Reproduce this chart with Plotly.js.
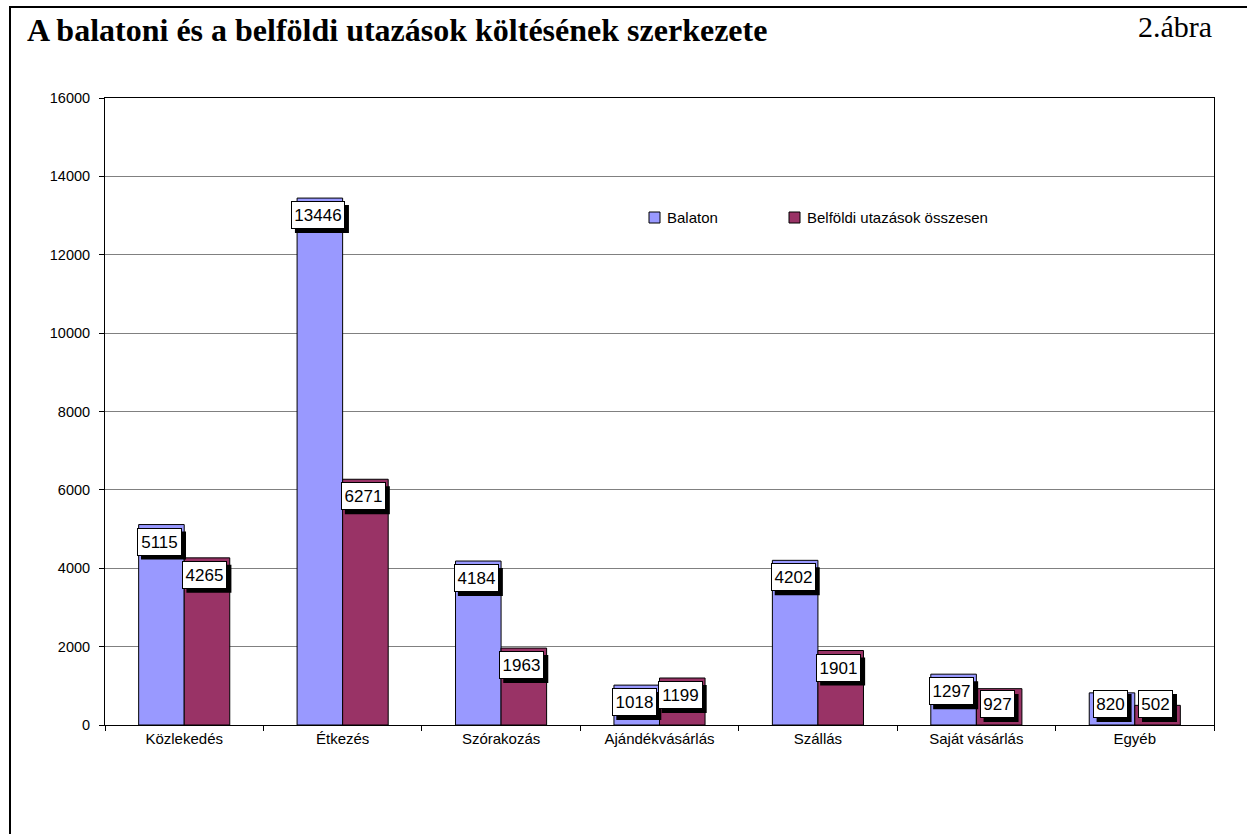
<!DOCTYPE html>
<html>
<head>
<meta charset="utf-8">
<script src="https://cdn.plot.ly/plotly-3.0.1.min.js"></script>
<style>html,body{margin:0;padding:0;background:#fff;}#chart{width:1247px;height:834px;}</style>
</head>
<body>
<div id="chart"></div>
<script>
const categories = ['Közlekedés','Étkezés','Szórakozás','Ajándékvásárlás','Szállás','Saját vásárlás','Egyéb'];
const balaton = [5115,13446,4184,1018,4202,1297,820];
const belfoldi = [4265,6271,1963,1199,1901,927,502];
const seriesNames = ['Balaton','Belföldi utazások összesen'];
const seriesColors = ['#9999FF','#993366'];
const yTicks = [0,2000,4000,6000,8000,10000,12000,14000,16000];

const W = 1247, H = 834;
const L = 105, R = 1214, T = 98, B = 725;
const pw = R - L, ph = B - T;
const px2x = p => (p - L) / pw;
const py2y = p => (B - p) / ph;

const traces = [balaton, belfoldi].map((vals, i) => ({
  type: 'bar', x: categories, y: vals, name: seriesNames[i],
  marker: {color: seriesColors[i], line: {color: '#000', width: 1}},
  showlegend: false, hoverinfo: 'skip'
}));

const lblFont = {family: 'Arial, "Liberation Sans", sans-serif', size: 17, color: '#000'};
const annotations = [];
const shapes = [];
const unitPx = ph / 16000;
const PAD = 2, BW = 1, TH = 22, SH = 4;
[balaton, belfoldi].forEach((vals, si) => {
  const xs = (si === 0 ? -22.7 : 22.7) - 2;
  vals.forEach((v, ci) => {
    const txt = String(v);
    const tw = Math.round(txt.length * 9.45) + 1;
    const ow = tw + 2 * (PAD + BW), oh = TH + 2 * (PAD + BW);
    const small = v * unitPx < 37;
    let yAnchorVal, ys, topPx;
    if (small) { yAnchorVal = 0; ys = 7; topPx = ys + oh; }
    else { yAnchorVal = v; ys = -3; topPx = ys; }
    shapes.push({type: 'rect', xref: 'x', yref: 'y',
      xsizemode: 'pixel', ysizemode: 'pixel',
      xanchor: categories[ci], yanchor: yAnchorVal,
      x0: xs + SH - ow / 2, x1: xs + SH + ow / 2,
      y0: topPx - SH - oh, y1: topPx - SH,
      fillcolor: '#000', line: {color: '#000', width: 0}, layer: 'above'});
    annotations.push({
      xref: 'x', yref: 'y', x: categories[ci], y: yAnchorVal,
      yanchor: small ? 'bottom' : 'top', yshift: ys, xanchor: 'center', xshift: xs,
      text: txt, showarrow: false, width: tw, height: TH,
      font: lblFont, bgcolor: '#fff', bordercolor: '#000', borderwidth: BW, borderpad: PAD
    });
  });
});

// legend (custom)
const legFont = {family: 'Arial, "Liberation Sans", sans-serif', size: 15, color: '#000'};
const legItems = [{sx: 649, tx: 665}, {sx: 789, tx: 805}];
legItems.forEach((it, i) => {
  shapes.push({type: 'rect', xref: 'paper', yref: 'paper',
    x0: px2x(it.sx), x1: px2x(it.sx + 11), y0: py2y(223), y1: py2y(212),
    fillcolor: seriesColors[i], line: {color: '#000', width: 1}});
  annotations.push({xref: 'paper', yref: 'paper', x: px2x(it.tx), y: py2y(217.5),
    xanchor: 'left', yanchor: 'middle', text: seriesNames[i], showarrow: false, font: legFont});
});

// outer frame
shapes.push({type: 'rect', xref: 'paper', yref: 'paper',
  x0: px2x(10), x1: px2x(1300), y0: py2y(900), y1: py2y(7),
  line: {color: '#000', width: 2}, fillcolor: 'rgba(0,0,0,0)', layer: 'above'});

// right-side label
annotations.push({xref: 'paper', yref: 'paper', x: px2x(1214), y: py2y(27),
  xanchor: 'right', yanchor: 'middle', text: '2.ábra', showarrow: false,
  font: {family: '"Times New Roman", "Liberation Serif", serif', size: 30, color: '#000'}});

const layout = {
  width: W, height: H,
  margin: {l: L, r: W - R, t: T, b: H - B, pad: 0},
  paper_bgcolor: '#fff', plot_bgcolor: '#fff',
  title: {text: '<b>A balatoni és a belföldi utazások költésének szerkezete</b>',
    xref: 'container', yref: 'container', x: 27 / W, xanchor: 'left',
    y: 1 - 30 / H, yanchor: 'middle',
    font: {family: '"Times New Roman", "Liberation Serif", serif', size: 32, color: '#000'}},
  barmode: 'group', bargap: 0.425, bargroupgap: 0,
  xaxis: {type: 'category', tickson: 'boundaries', ticks: 'outside', ticklen: 5,
    tickcolor: '#000', showline: true, linecolor: '#000', linewidth: 1, mirror: true,
    showgrid: false, zeroline: false,
    tickfont: {family: 'Arial, "Liberation Sans", sans-serif', size: 15, color: '#000'}},
  yaxis: {range: [0, 16000], tickvals: yTicks, ticktext: yTicks.map(String), ticks: 'outside', ticklen: 5,
    tickcolor: '#000', showline: true, linecolor: '#000', linewidth: 1, mirror: true,
    showgrid: true, gridcolor: '#808080', gridwidth: 1, zeroline: false,
    ticklabelstandoff: 6,
    tickfont: {family: 'Arial, "Liberation Sans", sans-serif', size: 14.5, color: '#000'}},
  annotations: annotations,
  shapes: shapes,
  showlegend: false
};

Plotly.newPlot('chart', traces, layout, {displayModeBar: false, staticPlot: true});
</script>
</body>
</html>
